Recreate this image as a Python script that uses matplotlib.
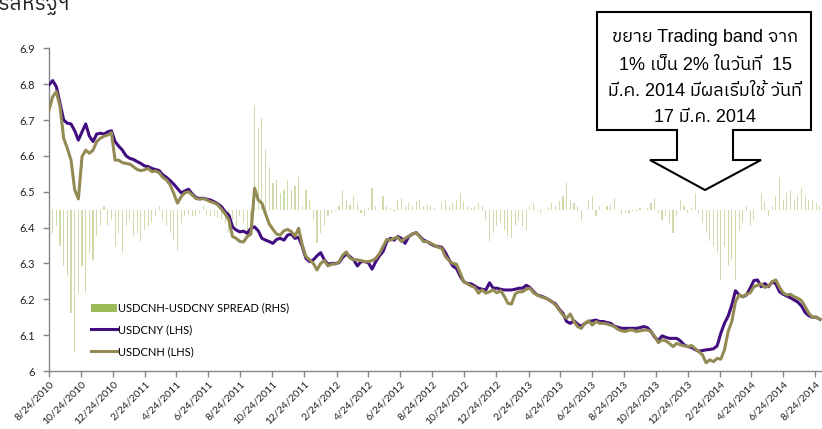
import numpy as np
import pandas as pd
import matplotlib
matplotlib.use("Agg")
import matplotlib.pyplot as plt
from matplotlib import font_manager
from matplotlib.ft2font import FT2Font
from matplotlib.patches import Polygon, Patch
from matplotlib.lines import Line2D

# Weekly fixings starting 24 Aug 2010
start_date = "2010-08-24"

usdcny = [
    6.798, 6.810, 6.793, 6.746, 6.700, 6.691, 6.689, 6.670, 6.644, 6.667,
    6.689, 6.655, 6.640, 6.661, 6.663, 6.661, 6.667, 6.670, 6.640, 6.627,
    6.616, 6.600, 6.593, 6.590, 6.584, 6.579, 6.572, 6.570, 6.565, 6.562,
    6.559, 6.547, 6.540, 6.531, 6.521, 6.509, 6.497, 6.502, 6.507, 6.494,
    6.484, 6.481, 6.482, 6.479, 6.477, 6.472, 6.466, 6.458, 6.444, 6.435,
    6.402, 6.393, 6.388, 6.390, 6.384, 6.398, 6.402, 6.391, 6.370, 6.365,
    6.361, 6.356, 6.367, 6.370, 6.365, 6.379, 6.382, 6.370, 6.373, 6.347,
    6.314, 6.305, 6.310, 6.321, 6.330, 6.310, 6.298, 6.300, 6.300, 6.302,
    6.317, 6.326, 6.319, 6.310, 6.293, 6.305, 6.305, 6.302, 6.284, 6.305,
    6.321, 6.333, 6.361, 6.370, 6.365, 6.375, 6.370, 6.356, 6.375, 6.382,
    6.386, 6.376, 6.365, 6.361, 6.354, 6.349, 6.347, 6.345, 6.330, 6.310,
    6.293, 6.286, 6.265, 6.249, 6.244, 6.243, 6.237, 6.231, 6.228, 6.226,
    6.246, 6.231, 6.231, 6.228, 6.226, 6.226, 6.226, 6.228, 6.231, 6.231,
    6.239, 6.233, 6.221, 6.212, 6.209, 6.205, 6.200, 6.193, 6.187, 6.172,
    6.161, 6.138, 6.133, 6.140, 6.131, 6.124, 6.133, 6.138, 6.140, 6.142,
    6.138, 6.138, 6.135, 6.133, 6.125, 6.122, 6.119, 6.119, 6.119, 6.119,
    6.119, 6.121, 6.124, 6.121, 6.110, 6.094, 6.085, 6.098, 6.094, 6.091,
    6.091, 6.091, 6.084, 6.073, 6.068, 6.066, 6.060, 6.055, 6.057, 6.059,
    6.060, 6.062, 6.070, 6.105, 6.133, 6.153, 6.184, 6.224, 6.212, 6.207,
    6.212, 6.231, 6.252, 6.254, 6.235, 6.244, 6.235, 6.249, 6.243, 6.221,
    6.214, 6.209, 6.204, 6.198, 6.192, 6.181, 6.163, 6.154, 6.150, 6.150,
    6.144,
]

usdcnh = [
    6.728, 6.765, 6.779, 6.737, 6.649, 6.621, 6.588, 6.505, 6.480, 6.598,
    6.616, 6.607, 6.616, 6.640, 6.649, 6.655, 6.658, 6.665, 6.588, 6.588,
    6.581, 6.579, 6.577, 6.570, 6.562, 6.559, 6.561, 6.565, 6.556, 6.558,
    6.553, 6.540, 6.533, 6.519, 6.495, 6.468, 6.486, 6.497, 6.500, 6.491,
    6.481, 6.479, 6.481, 6.477, 6.472, 6.469, 6.463, 6.451, 6.438, 6.421,
    6.375, 6.370, 6.361, 6.360, 6.375, 6.382, 6.510, 6.477, 6.468, 6.438,
    6.410, 6.395, 6.382, 6.379, 6.391, 6.395, 6.389, 6.376, 6.398, 6.351,
    6.319, 6.310, 6.300, 6.282, 6.300, 6.308, 6.293, 6.298, 6.298, 6.304,
    6.323, 6.332, 6.315, 6.310, 6.310, 6.308, 6.305, 6.305, 6.308, 6.314,
    6.327, 6.347, 6.367, 6.365, 6.370, 6.373, 6.361, 6.370, 6.376, 6.382,
    6.386, 6.375, 6.361, 6.361, 6.356, 6.351, 6.345, 6.342, 6.319, 6.308,
    6.300, 6.298, 6.274, 6.249, 6.243, 6.237, 6.233, 6.217, 6.226, 6.217,
    6.221, 6.226, 6.218, 6.224, 6.209, 6.189, 6.187, 6.215, 6.221, 6.221,
    6.228, 6.231, 6.218, 6.212, 6.207, 6.204, 6.200, 6.193, 6.184, 6.170,
    6.156, 6.147, 6.159, 6.138, 6.124, 6.119, 6.133, 6.140, 6.128, 6.138,
    6.133, 6.133, 6.131, 6.128, 6.124, 6.116, 6.112, 6.110, 6.114, 6.114,
    6.110, 6.112, 6.114, 6.114, 6.110, 6.096, 6.079, 6.087, 6.084, 6.077,
    6.068, 6.077, 6.073, 6.070, 6.068, 6.071, 6.063, 6.054, 6.045, 6.023,
    6.031, 6.026, 6.035, 6.033, 6.059, 6.110, 6.138, 6.193, 6.212, 6.207,
    6.214, 6.218, 6.235, 6.239, 6.243, 6.233, 6.237, 6.249, 6.254, 6.233,
    6.218, 6.212, 6.214, 6.207, 6.203, 6.196, 6.179, 6.161, 6.150, 6.150,
    6.144,
]

# USDCNH - USDCNY spread (right-hand scale)
spread = [
    -0.051, -0.033, -0.023, -0.051, -0.079, -0.093, -0.144, -0.198, -0.116, -0.079,
    -0.116, -0.060, -0.070, -0.037, -0.023, 0.005, -0.023, -0.014, -0.051, -0.033,
    -0.060, -0.023, -0.014, -0.037, -0.033, -0.044, -0.028, -0.023, -0.019, -0.009,
    0.005, -0.014, -0.023, -0.033, -0.042, -0.058, -0.019, -0.009, -0.007, -0.009,
    -0.009, -0.005, 0.005, -0.007, -0.009, -0.009, -0.012, -0.014, -0.019, -0.033,
    -0.014, -0.023, -0.009, -0.019, -0.033, -0.023, 0.146, 0.114, 0.128, 0.084,
    0.060, 0.037, 0.042, 0.023, 0.028, 0.042, 0.028, 0.033, 0.046, 0.005,
    0.028, 0.014, -0.014, -0.046, -0.033, -0.023, -0.009, -0.005, -0.002, 0.005,
    0.028, 0.014, 0.007, 0.019, 0.009, -0.005, -0.009, 0.002, 0.030, 0.005,
    0.000, 0.019, 0.005, 0.002, -0.002, 0.014, 0.016, 0.005, 0.009, 0.005,
    0.012, 0.014, 0.005, 0.007, 0.005, 0.002, 0.000, 0.009, 0.014, 0.005,
    0.009, 0.014, 0.023, 0.012, 0.005, 0.002, 0.005, 0.009, 0.005, -0.014,
    -0.044, -0.033, -0.023, -0.019, -0.028, -0.037, -0.040, -0.023, -0.016, -0.023,
    -0.028, 0.005, 0.009, -0.002, -0.005, 0.000, 0.002, 0.009, 0.005, 0.012,
    0.019, 0.037, 0.014, 0.009, 0.005, -0.016, 0.000, 0.014, 0.019, -0.009,
    0.005, 0.000, 0.005, 0.007, 0.016, 0.000, -0.007, -0.005, -0.004, -0.002,
    -0.002, 0.002, 0.000, 0.002, 0.009, 0.016, -0.005, -0.014, -0.009, -0.019,
    -0.033, -0.009, 0.014, 0.005, -0.005, 0.002, 0.023, -0.005, -0.019, -0.033,
    -0.044, -0.051, -0.060, -0.098, -0.051, -0.079, -0.070, -0.098, -0.028, -0.019,
    0.005, -0.023, -0.014, 0.000, 0.023, 0.012, -0.009, 0.005, 0.019, 0.046,
    0.014, 0.023, 0.028, 0.014, 0.021, 0.030, 0.019, 0.014, 0.014, 0.009,
    0.005,
]

series_labels = ["USDCNH-USDCNY SPREAD (RHS)", "USDCNY (LHS)", "USDCNH (LHS)"]
title_text = "หยวนต่อดอลลาร์สหรัฐฯ"
note_lines = [
    "ขยาย Trading band จาก",
    "1% เป็น 2% ในวันที่  15",
    "มี.ค. 2014 มีผลเริ่มใช้ วันที่",
    "17 มี.ค. 2014",
]
y_ticks = [6.0, 6.1, 6.2, 6.3, 6.4, 6.5, 6.6, 6.7, 6.8, 6.9]
y_tick_labels = ["6", "6.1", "6.2", "6.3", "6.4", "6.5", "6.6", "6.7", "6.8", "6.9"]


def family_with(ch):
    preferred = []
    other = []
    for f in font_manager.fontManager.ttflist:
        try:
            if FT2Font(f.fname).get_char_index(ord(ch)):
                name = f.name
                if "Sans" in name or "sans" in name:
                    preferred.append(name)
                else:
                    other.append(name)
        except Exception:
            continue
    for lst in (preferred, other):
        if lst:
            return lst[0]
    return "DejaVu Sans"


thai_family = family_with("ก")
tick_family = ["Lato", thai_family, "DejaVu Sans"]
note_family = ["Liberation Sans", thai_family, "DejaVu Sans"]

CNY_COLOR = "#420d80"
CNH_COLOR = "#948a54"
SPREAD_COLOR = "#9bbb59"
AXIS_COLOR = "#868686"

W, H = 822, 429
fig = plt.figure(figsize=(W / 100, H / 100), dpi=100)
ax = fig.add_axes([49 / W, 1 - 371 / H, (W - 49) / W, (371 - 48.3) / H])
ax2 = ax.twinx()
ax.set_zorder(ax2.get_zorder() + 1)
ax.patch.set_visible(False)

dates = pd.date_range(start_date, periods=len(usdcny), freq="7D")

# spread bars on the hidden right-hand scale
ax2.bar(dates, spread, width=2.2, color="#cddcaa", linewidth=0, zorder=1)
ax2.set_ylim(-0.225, 0.225)
ax2.set_yticks([])
for s in ax2.spines.values():
    s.set_visible(False)

ax.plot(dates, usdcny, color=CNY_COLOR, lw=2.2, solid_joinstyle="round", zorder=3)
ax.plot(dates, usdcnh, color=CNH_COLOR, lw=2.2, solid_joinstyle="round", zorder=4)

ax.set_ylim(6.0, 6.9)
ax.set_yticks(y_ticks)
ax.set_yticklabels(y_tick_labels)

tick_dates = pd.date_range("2010-08-24", "2014-08-24", freq=pd.DateOffset(months=2))
ax.set_xlim(pd.Timestamp("2010-08-24"), pd.Timestamp("2010-08-24") + pd.Timedelta(days=1474))
ax.set_xticks(tick_dates)
ax.set_xticklabels([f"{d.month}/{d.day}/{d.year}" for d in tick_dates])

for s in ("top", "right"):
    ax.spines[s].set_visible(False)
for s in ("left", "bottom"):
    ax.spines[s].set_color(AXIS_COLOR)
    ax.spines[s].set_linewidth(1.0)
ax.tick_params(axis="both", direction="out", length=4, width=1.0, color=AXIS_COLOR)
ax.tick_params(axis="y", pad=6, labelsize=8, labelcolor="#222222")
ax.tick_params(axis="x", pad=2, labelsize=7.5, labelcolor="#222222")
for lab in ax.get_yticklabels():
    lab.set_family(tick_family)
for lab in ax.get_xticklabels():
    lab.set_family(tick_family)
    lab.set_rotation(45)
    lab.set_ha("right")
    lab.set_rotation_mode("anchor")

handles = [
    Patch(facecolor=SPREAD_COLOR, edgecolor="none"),
    Line2D([], [], color=CNY_COLOR, lw=2.2),
    Line2D([], [], color=CNH_COLOR, lw=2.2),
]
ax.legend(handles, series_labels, loc="lower left", bbox_to_anchor=(0.048, 0.03),
          frameon=False, prop={"family": tick_family, "size": 8},
          handlelength=2.4, handleheight=0.8, handletextpad=0.1, labelspacing=0.95,
          borderaxespad=0)

# title, partly running off the top-left corner
fig.text(70 / W, 1 - 10 / H, title_text, ha="right", va="baseline",
         fontsize=15, family=[thai_family, "DejaVu Sans"], color="#222222")

# callout box with a downward arrow
pts_px = [(597, 12), (811, 12), (811, 130), (733, 130), (733, 160), (761, 160),
          (705, 190), (650, 160), (677, 160), (677, 130), (597, 130)]
pts = [(x / W, 1 - y / H) for x, y in pts_px]
fig.patches.append(Polygon(pts, closed=True, facecolor="white", edgecolor="black",
                           lw=1.5, transform=fig.transFigure, zorder=10, joinstyle="miter"))
line_y = [38, 65, 92, 118]
for txt, yy in zip(note_lines, line_y):
    fig.text(705 / W, 1 - yy / H, txt, ha="center", va="center", fontsize=13,
             family=note_family, color="black", zorder=11)

fig.savefig("out.png", dpi=100)
